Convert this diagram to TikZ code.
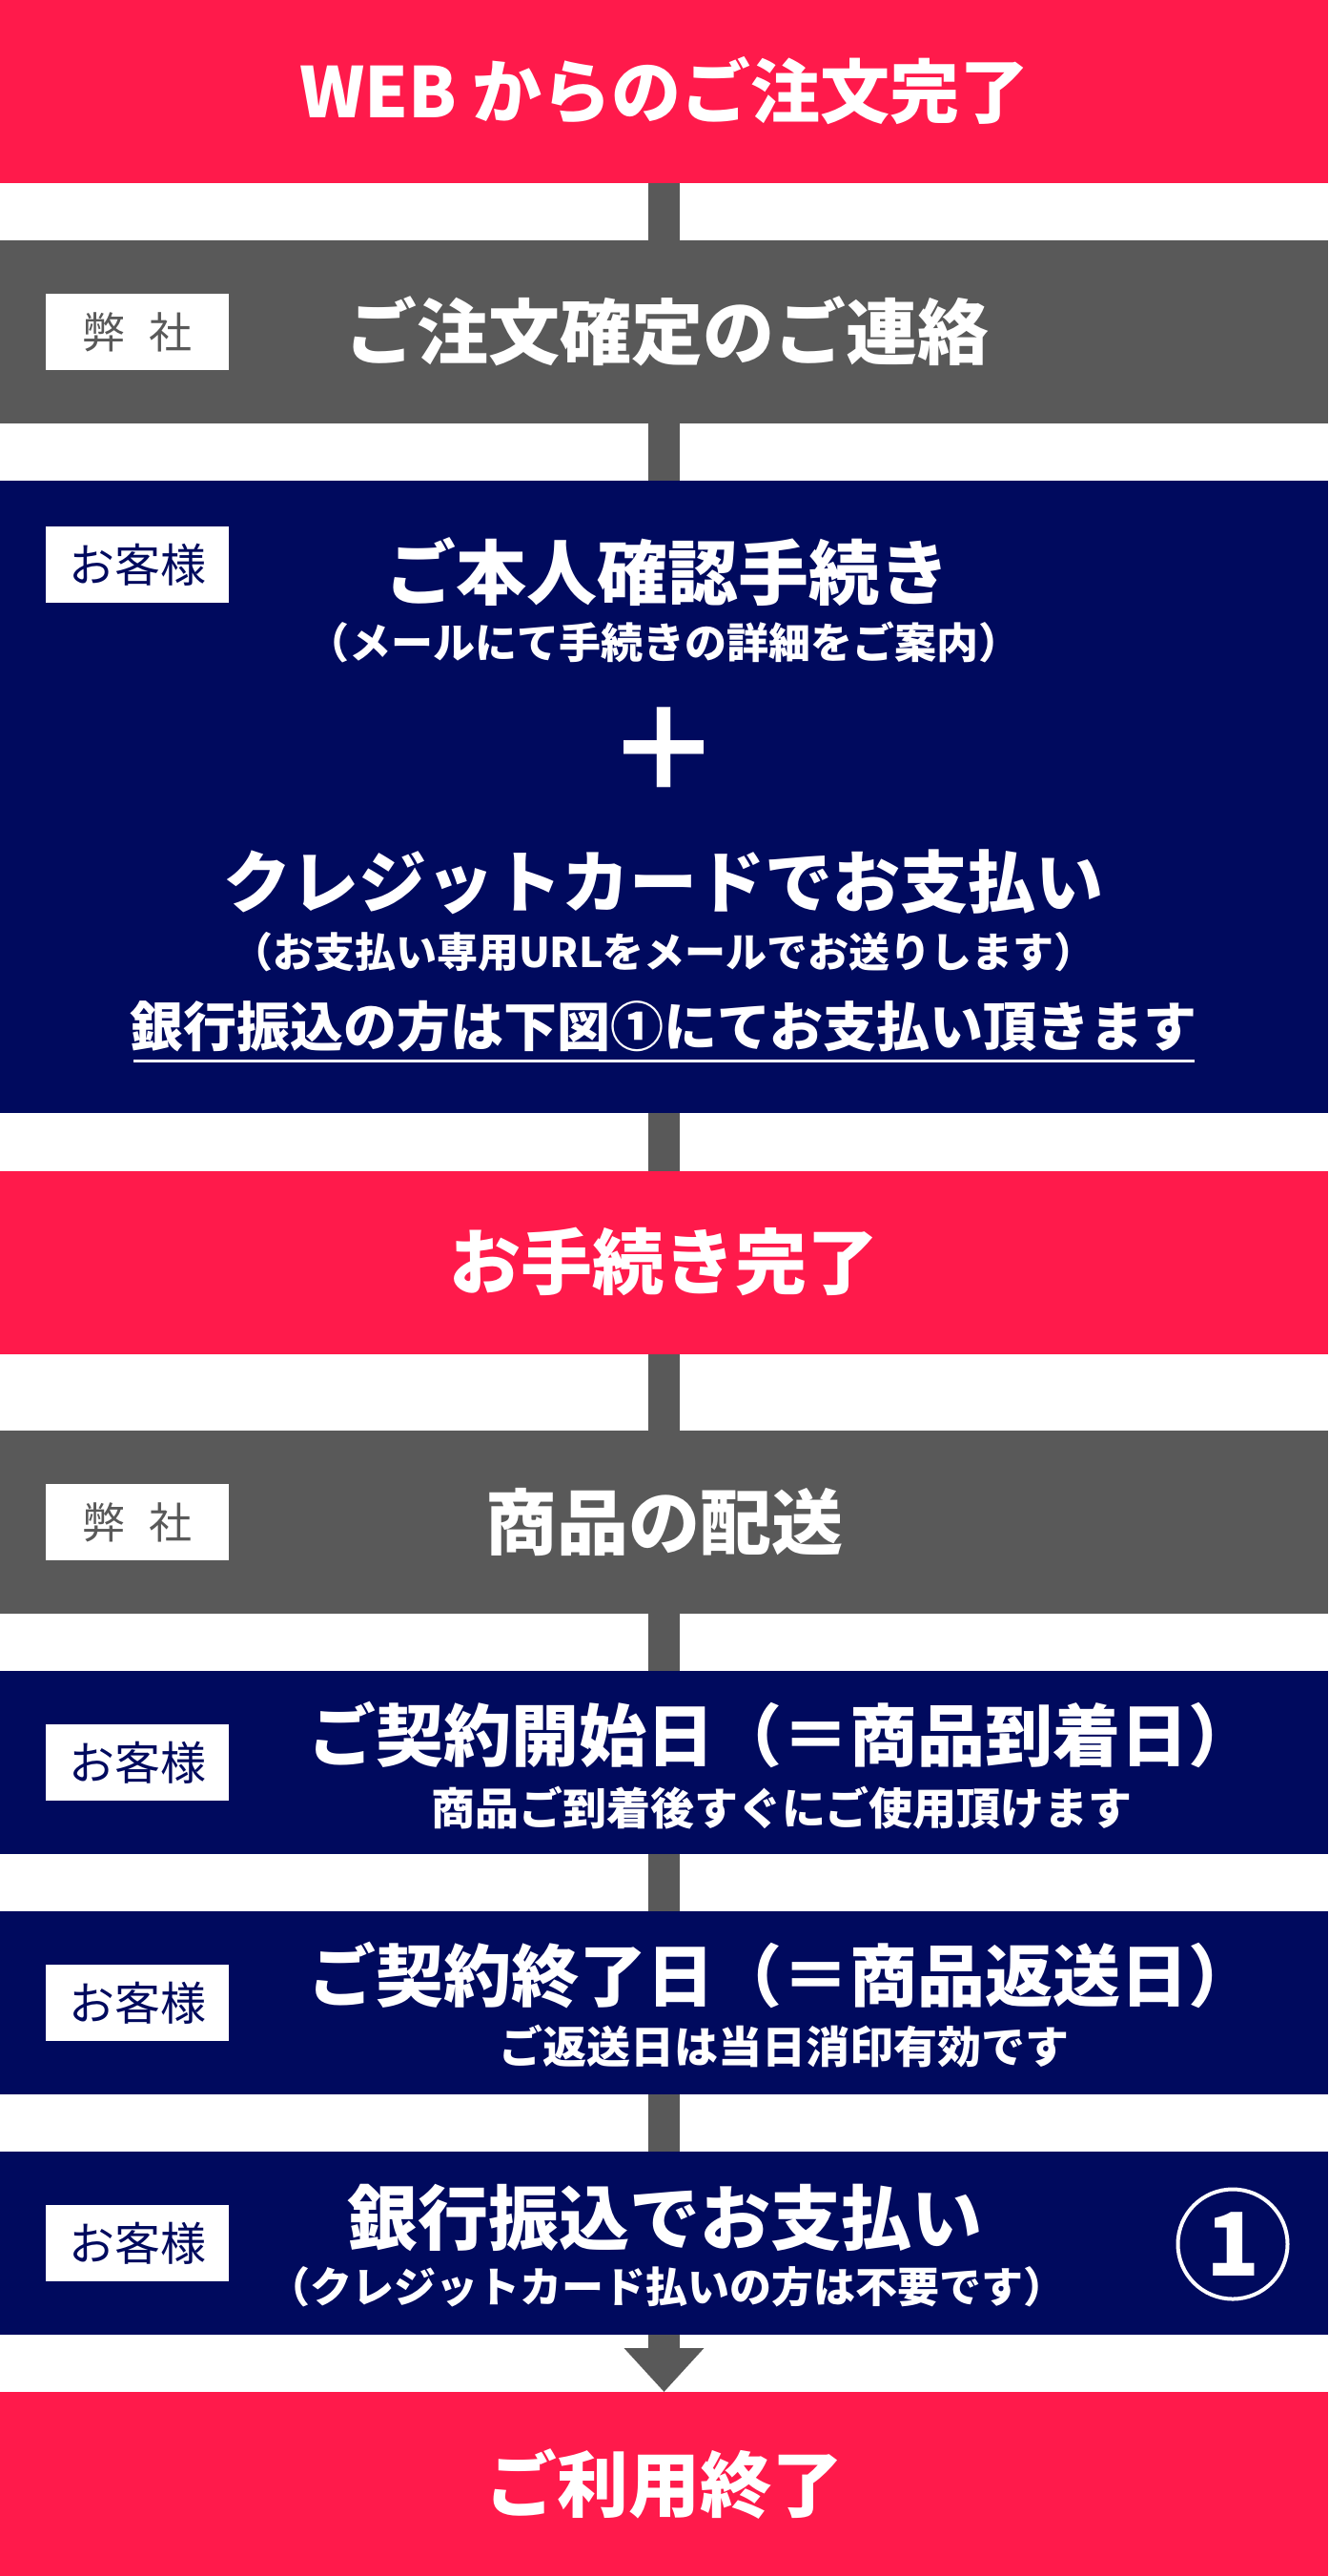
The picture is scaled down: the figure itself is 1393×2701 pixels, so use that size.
\documentclass[tikz,border=0pt]{standalone}
\usepackage{fontspec}
\setmainfont{Noto Sans CJK JP}
\usetikzlibrary{arrows.meta}
\definecolor{redc}{RGB}{255,26,75}
\definecolor{grayc}{RGB}{89,89,89}
\definecolor{navyc}{RGB}{0,10,94}
\newcommand{\fs}[1]{\fontsize{#1}{#1}\selectfont}
\tikzset{
  box/.style={inner sep=0pt, outer sep=0pt, minimum width=1393pt, anchor=north},
  redbox/.style={box, fill=redc},
  graybox/.style={box, fill=grayc},
  navybox/.style={box, fill=navyc},
  lbl/.style={fill=white, inner sep=0pt, minimum width=192pt, minimum height=80pt},
  wt/.style={text=white, inner sep=0pt, font=\bfseries},
  conn/.style={draw=grayc, line width=33pt},
}
\begin{document}
\begin{tikzpicture}[x=1pt,y=-1pt]
\useasboundingbox (0,0) rectangle (1393,2701);
% boxes
\node[redbox, minimum height=192pt] (b1) at (696.5,0) {};
\node[graybox, minimum height=192pt] (b2) at (696.5,252) {};
\node[navybox, minimum height=663pt] (b3) at (696.5,504) {};
\node[redbox, minimum height=192pt] (b4) at (696.5,1228) {};
\node[graybox, minimum height=192pt] (b5) at (696.5,1500) {};
\node[navybox, minimum height=192pt] (b6) at (696.5,1752) {};
\node[navybox, minimum height=192pt] (b7) at (696.5,2004) {};
\node[navybox, minimum height=192pt] (b8) at (696.5,2256) {};
\node[redbox, minimum height=193pt] (b9) at (696.5,2508) {};
% connectors
\draw[conn] (b1.south) -- (b2.north);
\draw[conn] (b2.south) -- (b3.north);
\draw[conn] (b3.south) -- (b4.north);
\draw[conn] (b4.south) -- (b5.north);
\draw[conn] (b5.south) -- (b6.north);
\draw[conn] (b6.south) -- (b7.north);
\draw[conn] (b7.south) -- (b8.north);
\draw[conn, -{Triangle[width=81pt,length=46pt]}] (b8.south) -- (b9.north);
% box 1
\node[wt, font=\bfseries\fs{73}] (t1) at (697,95) {WEB からのご注文完了};
% box 2
\node[lbl, text=grayc, font=\fs{45}] (l2) at (144,348) {弊\hspace{26pt}社};
\node[wt, font=\bfseries\fs{75}] (t2) at (700,347) {ご注文確定のご連絡};
% box 3
\node[lbl, text=navyc, font=\fs{48}] (l3) at (144,592) {お客様};
\node[wt, font=\bfseries\fs{74}] (t3a) at (700,600) {ご本人確認手続き};
\node[wt, font=\bfseries\fs{44}] (t3b) at (696,673) {（メールにて手続きの詳細をご案内）};
\node[wt, font=\bfseries\fs{120}] (t3p) at (696,786) {＋};
\node[wt, font=\bfseries\fs{71}] (t3c) at (696,925) {クレジットカードでお支払い};
\node[wt, font=\bfseries\fs{43}] (t3d) at (696,998) {（お支払い専用URLをメールでお送りします）};
\node[wt, font=\bfseries\fs{56}] (t3e) at (696,1076) {銀行振込の方は下図①にてお支払い頂きます};
\coordinate (u1) at (140,1112);
\coordinate (u2) at (1253,1112);
\draw[white, line width=3pt] (u1) -- (u2);
% box 4
\node[wt, font=\bfseries\fs{75}] (t4) at (696,1323) {お手続き完了};
% box 5
\node[lbl, text=grayc, font=\fs{45}] (l5) at (144,1596) {弊\hspace{26pt}社};
\node[wt, font=\bfseries\fs{75}] (t5) at (697,1596) {商品の配送};
% box 6
\node[lbl, text=navyc, font=\fs{48}] (l6) at (144,1848) {お客様};
\node[wt, font=\bfseries\fs{71}, anchor=west] (t6a) at (323,1819) {ご契約開始日（＝商品到着日）};
\node[wt, font=\bfseries\fs{46}] (t6b) at (820,1896) {商品ご到着後すぐにご使用頂けます};
% box 7
\node[lbl, text=navyc, font=\fs{48}] (l7) at (144,2100) {お客様};
\node[wt, font=\bfseries\fs{71}, anchor=west] (t7a) at (323,2071) {ご契約終了日（＝商品返送日）};
\node[wt, font=\bfseries\fs{46}] (t7b) at (822,2146) {ご返送日は当日消印有効です};
% box 8
\node[lbl, text=navyc, font=\fs{48}] (l8) at (144,2352) {お客様};
\node[wt, font=\bfseries\fs{74}] (t8a) at (697,2325) {銀行振込でお支払い};
\node[wt, font=\bfseries\fs{44}] (t8b) at (699,2398) {（クレジットカード払いの方は不要です）};
\node[circle, draw=white, line width=4pt, minimum size=115pt, inner sep=0pt, text=white, font=\bfseries\fs{92}] (c8) at (1293,2353) {1};
% box 9
\node[wt, font=\bfseries\fs{75}] (t9) at (697,2605) {ご利用終了};
\end{tikzpicture}
\end{document}
